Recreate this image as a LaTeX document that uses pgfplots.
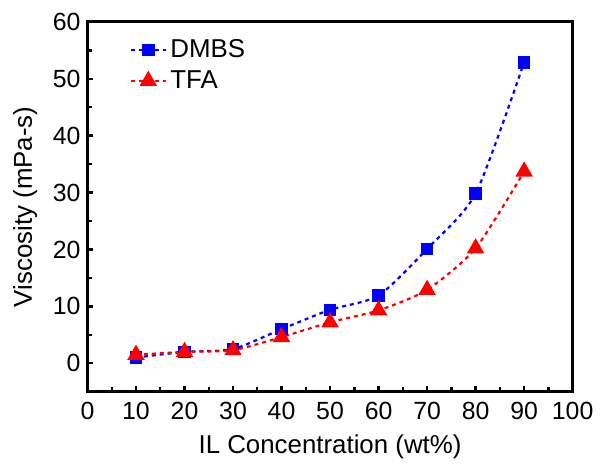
\documentclass[border=0pt]{standalone}
\usepackage{pgfplots}
\pgfplotsset{compat=1.18}
\usepackage{fontspec}
\setmainfont{Liberation Sans}
\begin{document}
\begin{tikzpicture}
\begin{axis}[
  scale only axis,
  width=244pt, height=186pt,
  xmin=0, xmax=100, ymin=-5, ymax=60,
  xtick={0,10,...,100}, ytick={0,10,...,60},
  minor xtick={5,15,...,95}, minor ytick={-5,5,15,...,55},
  tick align=inside,
  xtick pos=bottom, ytick pos=left,
  major tick length=3pt, minor tick length=2.5pt,
  every tick/.style={black, line width=1.2pt},
  axis line style={line width=1.5pt},
  /pgf/number format/assume math mode=true,
  tick label style={font=\fontsize{12.5}{14}\selectfont},
  xticklabel style={yshift=-1.5pt},
  label style={font=\fontsize{13}{15}\selectfont},
  xlabel={IL Concentration (wt\%)},
  ylabel={Viscosity (mPa-s)},
  xlabel style={yshift=-1pt},
  ylabel style={yshift=1pt},
  legend style={draw=none, fill=none, at={(0.075,0.975)}, anchor=north west,
    font=\fontsize{13}{15}\selectfont, row sep=1pt},
  legend cell align=left,
]
\addplot[blue, line width=1.1pt, dash pattern=on 2pt off 2pt, smooth, tension=0.4,
  mark=square*, mark size=2.6pt, mark options={solid}]
  coordinates {(10,1.0) (20,2.0) (30,2.5) (40,6.0) (50,9.4) (60,11.9) (70,20.1) (80,29.8) (90,52.9)};
\addlegendentry{DMBS}
\addplot[red, line width=1.1pt, dash pattern=on 2pt off 2pt, smooth, tension=0.4,
  mark=triangle*, mark size=4pt, mark options={solid}]
  coordinates {(10,1.5) (20,2.0) (30,2.3) (40,4.6) (50,7.2) (60,9.3) (70,12.9) (80,20.2) (90,33.7)};
\addlegendentry{TFA}
\end{axis}
\useasboundingbox (-44pt,-34pt) rectangle (256pt,197pt);
\end{tikzpicture}
\end{document}
